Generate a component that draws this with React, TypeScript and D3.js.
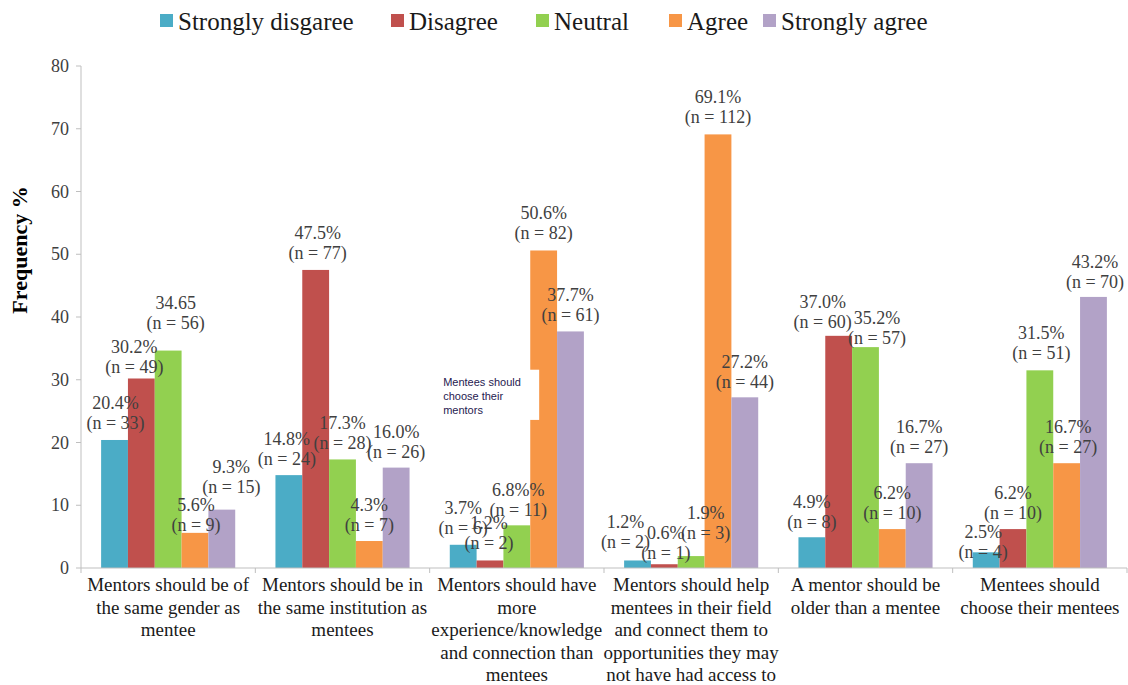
import React from "react";
import * as d3 from "d3";

// Survey statements (x categories), wrapped as printed under the axis
const categories: string[][] = [
  ["Mentors should be of", "the same gender as", "mentee"],
  ["Mentors should be in", "the same institution as", "mentees"],
  ["Mentors should have", "more", "experience/knowledge", "and connection than", "mentees"],
  ["Mentors should help", "mentees in their field", "and connect them to", "opportunities they may", "not have had access to"],
  ["A mentor should be", "older than a mentee"],
  ["Mentees should", "choose their mentees"],
];

const seriesNames = ["Strongly disgaree", "Disagree", "Neutral", "Agree", "Strongly agree"];
const seriesColors = ["#4bacc6", "#c0504d", "#92d050", "#f79646", "#b2a2c7"];

// Percentages per response level, one value per statement
const stronglyDisagree = [20.4, 14.8, 3.7, 1.2, 4.9, 2.5];
const disagree = [30.2, 47.5, 1.2, 0.6, 37.0, 6.2];
const neutral = [34.65, 17.3, 6.8, 1.9, 35.2, 31.5];
const agree = [5.6, 4.3, 50.6, 69.1, 6.2, 16.7];
const stronglyAgree = [9.3, 16.0, 37.7, 27.2, 16.7, 43.2];

// Respondent counts behind each percentage
const nStronglyDisagree = [33, 24, 6, 2, 8, 4];
const nDisagree = [49, 77, 2, 1, 60, 10];
const nNeutral = [56, 28, 11, 3, 57, 51];
const nAgree = [9, 7, 82, 112, 10, 27];
const nStronglyAgree = [15, 26, 61, 44, 27, 70];

const yTicks = [0, 10, 20, 30, 40, 50, 60, 70, 80];

const values = [stronglyDisagree, disagree, neutral, agree, stronglyAgree];
const counts = [nStronglyDisagree, nDisagree, nNeutral, nAgree, nStronglyAgree];

// Percent text as typed on the original labels (a couple are irregular)
const pctTextOverride: Record<string, string> = {
  "2-0": "34.65",
  "2-2": "6.8%%",
};
const pctText = (s: number, c: number, v: number) =>
  pctTextOverride[`${s}-${c}`] ?? `${v.toFixed(1)}%`;

// Hand nudges [dx, dy] applied to individual data labels: [category][series]
const labelNudge: [number, number][][] = [
  [[1, -1], [-7, 5], [7.5, -12], [1, 8], [9.5, -6.5]],
  [[-2, 0], [2, -1], [0, 0], [0, 0], [0, 0]],
  [[0, -1], [-1, -1], [1.5, 1], [0, -1], [0, 0]],
  [[-12, -2.5], [1.5, 5], [14.5, -7], [0, -1], [0, 1]],
  [[0, 1], [-16, 2], [11.5, 7], [0, 0], [0, 0]],
  [[-3, 16], [0, 0], [1.5, -1], [1.5, 0], [1.5, 1]],
];

const legendX = [160, 391, 536, 669, 763];

const W = 1128;
const H = 685;
const serif: React.CSSProperties = { fontFamily: "'Liberation Serif', 'DejaVu Serif', serif" };
const sans: React.CSSProperties = { fontFamily: "'Liberation Sans', Arial, sans-serif" };

export default function App() {
  const x0 = d3
    .scaleBand<number>()
    .domain(d3.range(categories.length))
    .range([81, 1127])
    .paddingInner(0)
    .paddingOuter(0);
  const x1 = d3
    .scaleBand<number>()
    .domain(d3.range(seriesNames.length))
    .range([0, x0.bandwidth()])
    .paddingInner(0)
    .paddingOuter(0.75);
  const y = d3.scaleLinear().domain([0, 80]).range([568, 66]);

  const axisColor = "#bfbfbf";
  const textColor = "#404040";
  const boundaries = d3.range(categories.length + 1).map((i) =>
    i < categories.length ? (x0(i) as number) : (x0(i - 1) as number) + x0.bandwidth()
  );

  return (
    <svg
      width={W}
      height={H}
      viewBox={`0 0 ${W} ${H}`}
      style={{ position: "absolute", left: 0, top: 0, background: "#fff" }}
    >
      <rect x={0} y={0} width={W} height={H} fill="#fff" />

      {/* legend */}
      {seriesNames.map((name, i) => (
        <g key={name}>
          <rect x={legendX[i]} y={14} width={13} height={13} fill={seriesColors[i]} />
          <text x={legendX[i] + 18} y={30} style={serif} fontSize={25} fill="#1a1a1a">
            {name}
          </text>
        </g>
      ))}

      {/* y axis */}
      <line x1={81} x2={81} y1={y(80)} y2={y(0)} stroke={axisColor} strokeWidth={1} />
      {yTicks.map((t) => (
        <g key={t}>
          <line x1={76} x2={81} y1={y(t)} y2={y(t)} stroke={axisColor} />
          <text x={69} y={y(t) + 6} textAnchor="end" style={serif} fontSize={18} fill={textColor}>
            {t}
          </text>
        </g>
      ))}
      <text
        transform={`translate(27, 250) rotate(-90)`}
        textAnchor="middle"
        style={serif}
        fontWeight="bold"
        fontSize={22}
        fill="#000"
      >
        Frequency %
      </text>

      {/* bars */}
      {categories.map((_, c) =>
        values.map((vals, s) => (
          <rect
            key={`b-${c}-${s}`}
            x={(x0(c) as number) + (x1(s) as number)}
            y={y(vals[c])}
            width={x1.bandwidth()}
            height={y(0) - y(vals[c])}
            fill={seriesColors[s]}
          />
        ))
      )}

      {/* x axis */}
      <line x1={81} x2={1127} y1={y(0)} y2={y(0)} stroke={axisColor} strokeWidth={1} />
      {boundaries.map((bx, i) => (
        <line key={`t-${i}`} x1={bx} x2={bx} y1={y(0)} y2={y(0) + 5} stroke={axisColor} />
      ))}

      {/* category labels */}
      {categories.map((lines, c) => (
        <text key={`c-${c}`} textAnchor="middle" style={serif} fontSize={19} fill="#1a1a1a">
          {lines.map((ln, k) => (
            <tspan key={k} x={(x0(c) as number) + x0.bandwidth() / 2} y={591 + k * 22.5}>
              {ln}
            </tspan>
          ))}
        </text>
      ))}

      {/* data labels */}
      {categories.map((_, c) =>
        values.map((vals, s) => {
          const v = vals[c];
          const [dx, dy] = labelNudge[c][s];
          const cx = (x0(c) as number) + (x1(s) as number) + x1.bandwidth() / 2 + dx;
          const top = y(v) + dy;
          return (
            <text key={`l-${c}-${s}`} textAnchor="middle" style={serif} fontSize={18} fill={textColor}>
              <tspan x={cx} y={top - 30}>
                {pctText(s, c, v)}
              </tspan>
              <tspan x={cx} y={top - 10}>
                {`(n = ${counts[s][c]})`}
              </tspan>
            </text>
          );
        })
      )}

      {/* stray text box left on the plot */}
      {(() => {
        const bx = (x0(2) as number) + 8.5;
        const by = y(31.6);
        return (
          <g>
            <rect x={bx} y={by} width={101} height={y(23.6) - by} fill="#fff" />
            <text style={sans} fontSize={11} fill="#1f2050">
              {["Mentees should", "choose their", "mentors"].map((ln, k) => (
                <tspan key={k} x={bx + 5} y={by + 16 + k * 14}>
                  {ln}
                </tspan>
              ))}
            </text>
          </g>
        );
      })()}
    </svg>
  );
}
